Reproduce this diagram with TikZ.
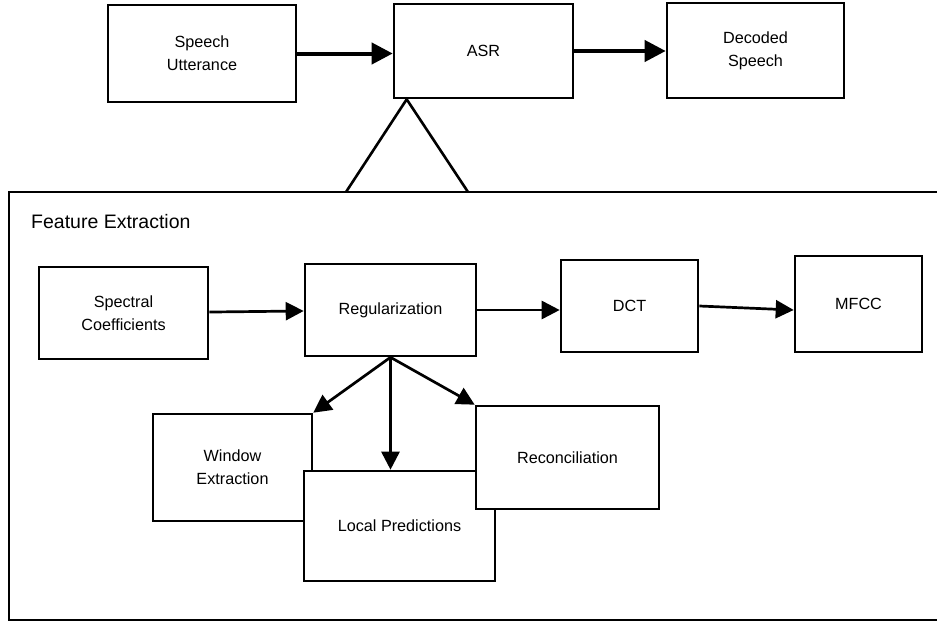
\documentclass[tikz,border=0pt]{standalone}
\usepackage{fontspec}
\setmainfont{Liberation Sans}
\usepackage{tikz}
\usetikzlibrary{arrows.meta}

\begin{document}
\begin{tikzpicture}[x=1pt,y=-1pt,
    box/.style={draw,fill=white,line width=2.6pt,inner sep=0pt,align=center,
      font=\fontsize{16.2}{23}\selectfont},
    flow/.style={line width=2.7pt,-{Triangle[length=18pt,width=18pt]}},
    mainflow/.style={line width=4pt,-{Triangle[length=21pt,width=21pt]}}]
  \useasboundingbox (0,0) rectangle (937,624);
  % top row
  \node[box,minimum width=188pt,minimum height=97pt] (su) at (202,53.5) {Speech\\Utterance};
  \node[box,minimum width=179pt,minimum height=94pt] (asr) at (483.5,51) {ASR};
  \node[box,minimum width=177pt,minimum height=95pt] (ds) at (755.5,50.5) {Decoded\\Speech};
  \draw[mainflow] (su.east) -- (su.east -| asr.west);
  \draw[mainflow] (asr.east) -- (asr.east -| ds.west);
  % zoom into the feature extraction
  \coordinate (apex) at ([xshift=14pt]asr.south west);
  \coordinate (legL) at (346,192);
  \coordinate (legR) at (468,192);
  \draw[line width=2.6pt] (legL) -- (apex) -- (legR);
  \draw[line width=2.4pt] (942,192) -- (9,192) -- (9,620) -- (942,620);
  \node[anchor=west,inner sep=0pt,font=\fontsize{19.5}{23}\selectfont] (fe) at (31,222) {Feature Extraction};
  % pipeline
  \node[box,minimum width=169pt,minimum height=92pt] (sc) at (123.5,313) {Spectral\\Coefficients};
  \node[box,minimum width=171pt,minimum height=92pt] (reg) at (390.5,310) {Regularization};
  \node[box,minimum width=137pt,minimum height=92pt] (dct) at (629.5,306) {DCT};
  \node[box,minimum width=127pt,minimum height=96pt] (mfcc) at (858.5,304) {MFCC};
  \draw[flow] (sc) -- (reg);
  \draw[flow] (reg.east) -- (reg.east -| dct.west);
  \draw[flow] (dct.east) -- ([yshift=-6pt]mfcc.west);
  % regularization steps
  \node[box,minimum width=159pt,minimum height=107pt] (we) at (232.5,467.5) {Window\\Extraction};
  \node[box,minimum width=191pt,minimum height=110pt] (lp) at (399.5,526) {Local Predictions};
  \node[box,minimum width=183pt,minimum height=103pt] (rec) at (567.5,457.5) {Reconciliation};
  \draw[flow] (reg.south) -- (we.north east);
  \draw[flow] (reg.south) -- (reg.south |- lp.north);
  \draw[flow] (reg.south) -- (rec.north west);
\end{tikzpicture}
\end{document}
